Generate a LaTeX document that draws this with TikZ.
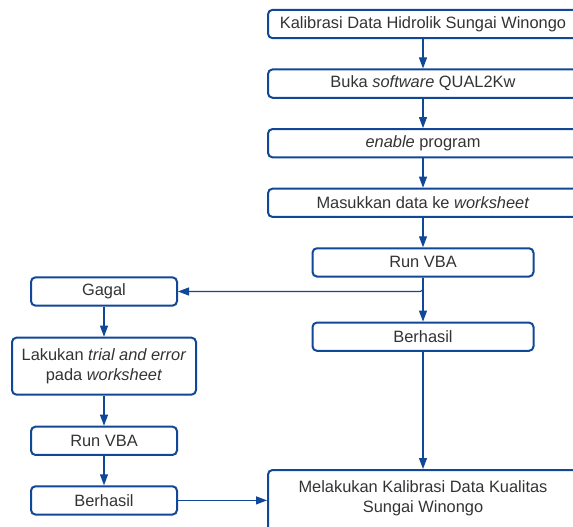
\documentclass[tikz,border=0pt]{standalone}
\usepackage{fontspec}
\setmainfont{Liberation Sans}
\usepackage{tikz}
\usetikzlibrary{shapes,arrows,arrows.meta,positioning,calc}
\definecolor{flowblue}{RGB}{16,71,150}
\definecolor{flowtext}{RGB}{51,51,51}

\begin{document}
\begin{tikzpicture}[
    x=1pt, y=-1pt,
    node distance=29.3pt,
    box/.style={rectangle, draw=flowblue, line width=2pt, rounded corners=4.5pt,
                minimum height=28.3pt, inner sep=2pt, align=center, text=flowtext,
                font=\fontsize{16.4}{20}\selectfont},
    arrow/.style={-{Triangle[length=11pt,width=8pt]}, line width=1.2pt, draw=flowblue},
]
\useasboundingbox (0,0) rectangle (573,527);

% Kolom kanan
\node[box, minimum width=310pt] (kalib) at (423,24)
    {Kalibrasi Data Hidrolik Sungai Winongo};
\node[box, minimum width=310pt, below=of kalib] (buka)
    {Buka \textit{software} QUAL2Kw};
\node[box, minimum width=310pt, below=of buka] (enable)
    {\textit{enable} program};
\node[box, minimum width=310pt, below=of enable] (masuk)
    {Masukkan data ke \textit{worksheet}};
\node[box, minimum width=221pt, below=of masuk] (runA) {Run VBA};
\node[box, minimum width=221pt, below=44pt of runA] (berA) {Berhasil};

% Kolom kiri
\node[box, minimum width=146pt] (gagal) at (104,291.5) {Gagal};
\node[box, minimum width=184pt, minimum height=57pt, below=30pt of gagal] (trial)
    {Lakukan \textit{trial and error}\\pada \textit{worksheet}};
\node[box, minimum width=146pt, below=30pt of trial] (runB) {Run VBA};
\node[box, minimum width=146pt, below=of runB] (berB) {Berhasil};

% Hasil akhir
\node[box, minimum width=310pt, minimum height=80pt, anchor=north] (akhir) at (423,469) {};
\node[text=flowtext, font=\fontsize{16.4}{20}\selectfont, align=center,
      below=8pt of akhir.north] (akhirteks)
    {Melakukan Kalibrasi Data Kualitas\\Sungai Winongo};

% Panah
\draw[arrow] (kalib) -- (buka);
\draw[arrow] (buka) -- (enable);
\draw[arrow] (enable) -- (masuk);
\draw[arrow] (masuk) -- (runA);
\draw[arrow] (runA) -- (berA);
\draw[arrow, rounded corners=3pt] (runA.south) |- (gagal.east);
\draw[arrow] (berA) -- (akhir.north);
\draw[arrow] (gagal) -- (trial);
\draw[arrow] (trial) -- (runB);
\draw[arrow] (runB) -- (berB);
\draw[arrow] (berB.east) -- (berB.east -| akhir.west);

\end{tikzpicture}
\end{document}
